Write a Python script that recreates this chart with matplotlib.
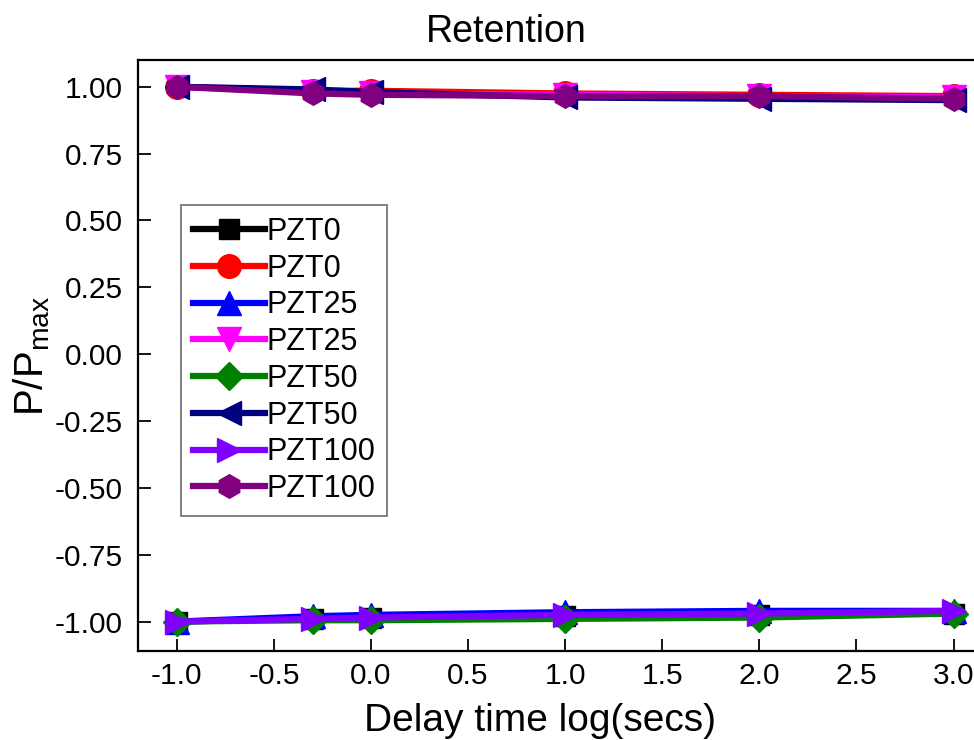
import matplotlib
matplotlib.use('Agg')
import matplotlib.pyplot as plt

plt.rcParams['font.family'] = ['Liberation Sans', 'DejaVu Sans']

# Delay time (log10 of seconds) and normalised polarisation for each sample
delay_log = [-1.0, -0.3, 0.0, 1.0, 2.0, 3.0]
labels = ['PZT0', 'PZT0', 'PZT25', 'PZT25', 'PZT50', 'PZT50', 'PZT100', 'PZT100']
pzt0_neg = [-1.0, -0.99, -0.985, -0.98, -0.975, -0.97]
pzt0_pos = [1.0, 0.985, 0.985, 0.975, 0.97, 0.965]
pzt25_neg = [-1.0, -0.98, -0.975, -0.965, -0.96, -0.96]
pzt25_pos = [1.0, 0.98, 0.975, 0.97, 0.965, 0.96]
pzt50_neg = [-1.0, -0.995, -0.995, -0.99, -0.985, -0.97]
pzt50_pos = [1.0, 0.99, 0.98, 0.96, 0.955, 0.95]
pzt100_neg = [-1.0, -0.99, -0.985, -0.975, -0.97, -0.96]
pzt100_pos = [1.0, 0.975, 0.97, 0.965, 0.965, 0.955]

series = [pzt0_neg, pzt0_pos, pzt25_neg, pzt25_pos,
          pzt50_neg, pzt50_pos, pzt100_neg, pzt100_pos]
colors = ['black', 'red', 'blue', 'magenta', 'green', 'navy', '#8000ff', 'purple']
markers = ['s', 'o', '^', 'v', 'D', '<', '>', 'h']

fig = plt.figure(figsize=(9.74, 7.4), dpi=100)
ax = fig.add_axes([0.1417, 0.1203, 0.862, 0.7986])

for vals, lab, c, m in zip(series, labels, colors, markers):
    ms = 14 if m in ('D', 's') else 17
    ax.plot(delay_log, vals, label=lab, color=c, marker=m, markersize=ms, linewidth=4.5)

ax.set_xlim(-1.2, 3.124)
ax.set_ylim(-1.11, 1.10)
ax.set_xticks([-1.0, -0.5, 0.0, 0.5, 1.0, 1.5, 2.0, 2.5, 3.0])
ax.set_xticklabels(['-1.0', '-0.5', '0.0', '0.5', '1.0', '1.5', '2.0', '2.5', '3.0'])
ax.set_yticks([1.0, 0.75, 0.5, 0.25, 0.0, -0.25, -0.5, -0.75, -1.0])
ax.set_yticklabels(['1.00', '0.75', '0.50', '0.25', '0.00', '-0.25', '-0.50', '-0.75', '-1.00'])
ax.tick_params(direction='in', length=9, width=1.3, labelsize=21.5)
ax.tick_params(axis='y', pad=11)
ax.tick_params(axis='x', pad=8)
ax.spines['right'].set_visible(False)
for s in ['left', 'bottom', 'top']:
    ax.spines[s].set_linewidth(1.6)

ax.set_xlabel('Delay time log(secs)', fontsize=28, labelpad=0)
ax.xaxis.set_label_coords(0.479, -0.088)
ax.set_ylabel(r'P/P$_{\mathregular{max}}$', fontsize=29, labelpad=2)
ax.set_title('Retention', fontsize=27, x=0.438, pad=13)

leg = ax.legend(loc='upper left', bbox_to_anchor=(0.051, 0.755), fontsize=22,
                frameon=True, fancybox=False, edgecolor='#555555',
                handlelength=2.35, handletextpad=0.05, labelspacing=0.22,
                borderpad=0.4, borderaxespad=0)
leg.get_frame().set_linewidth(1.3)

plt.savefig('out.png', dpi=100)
